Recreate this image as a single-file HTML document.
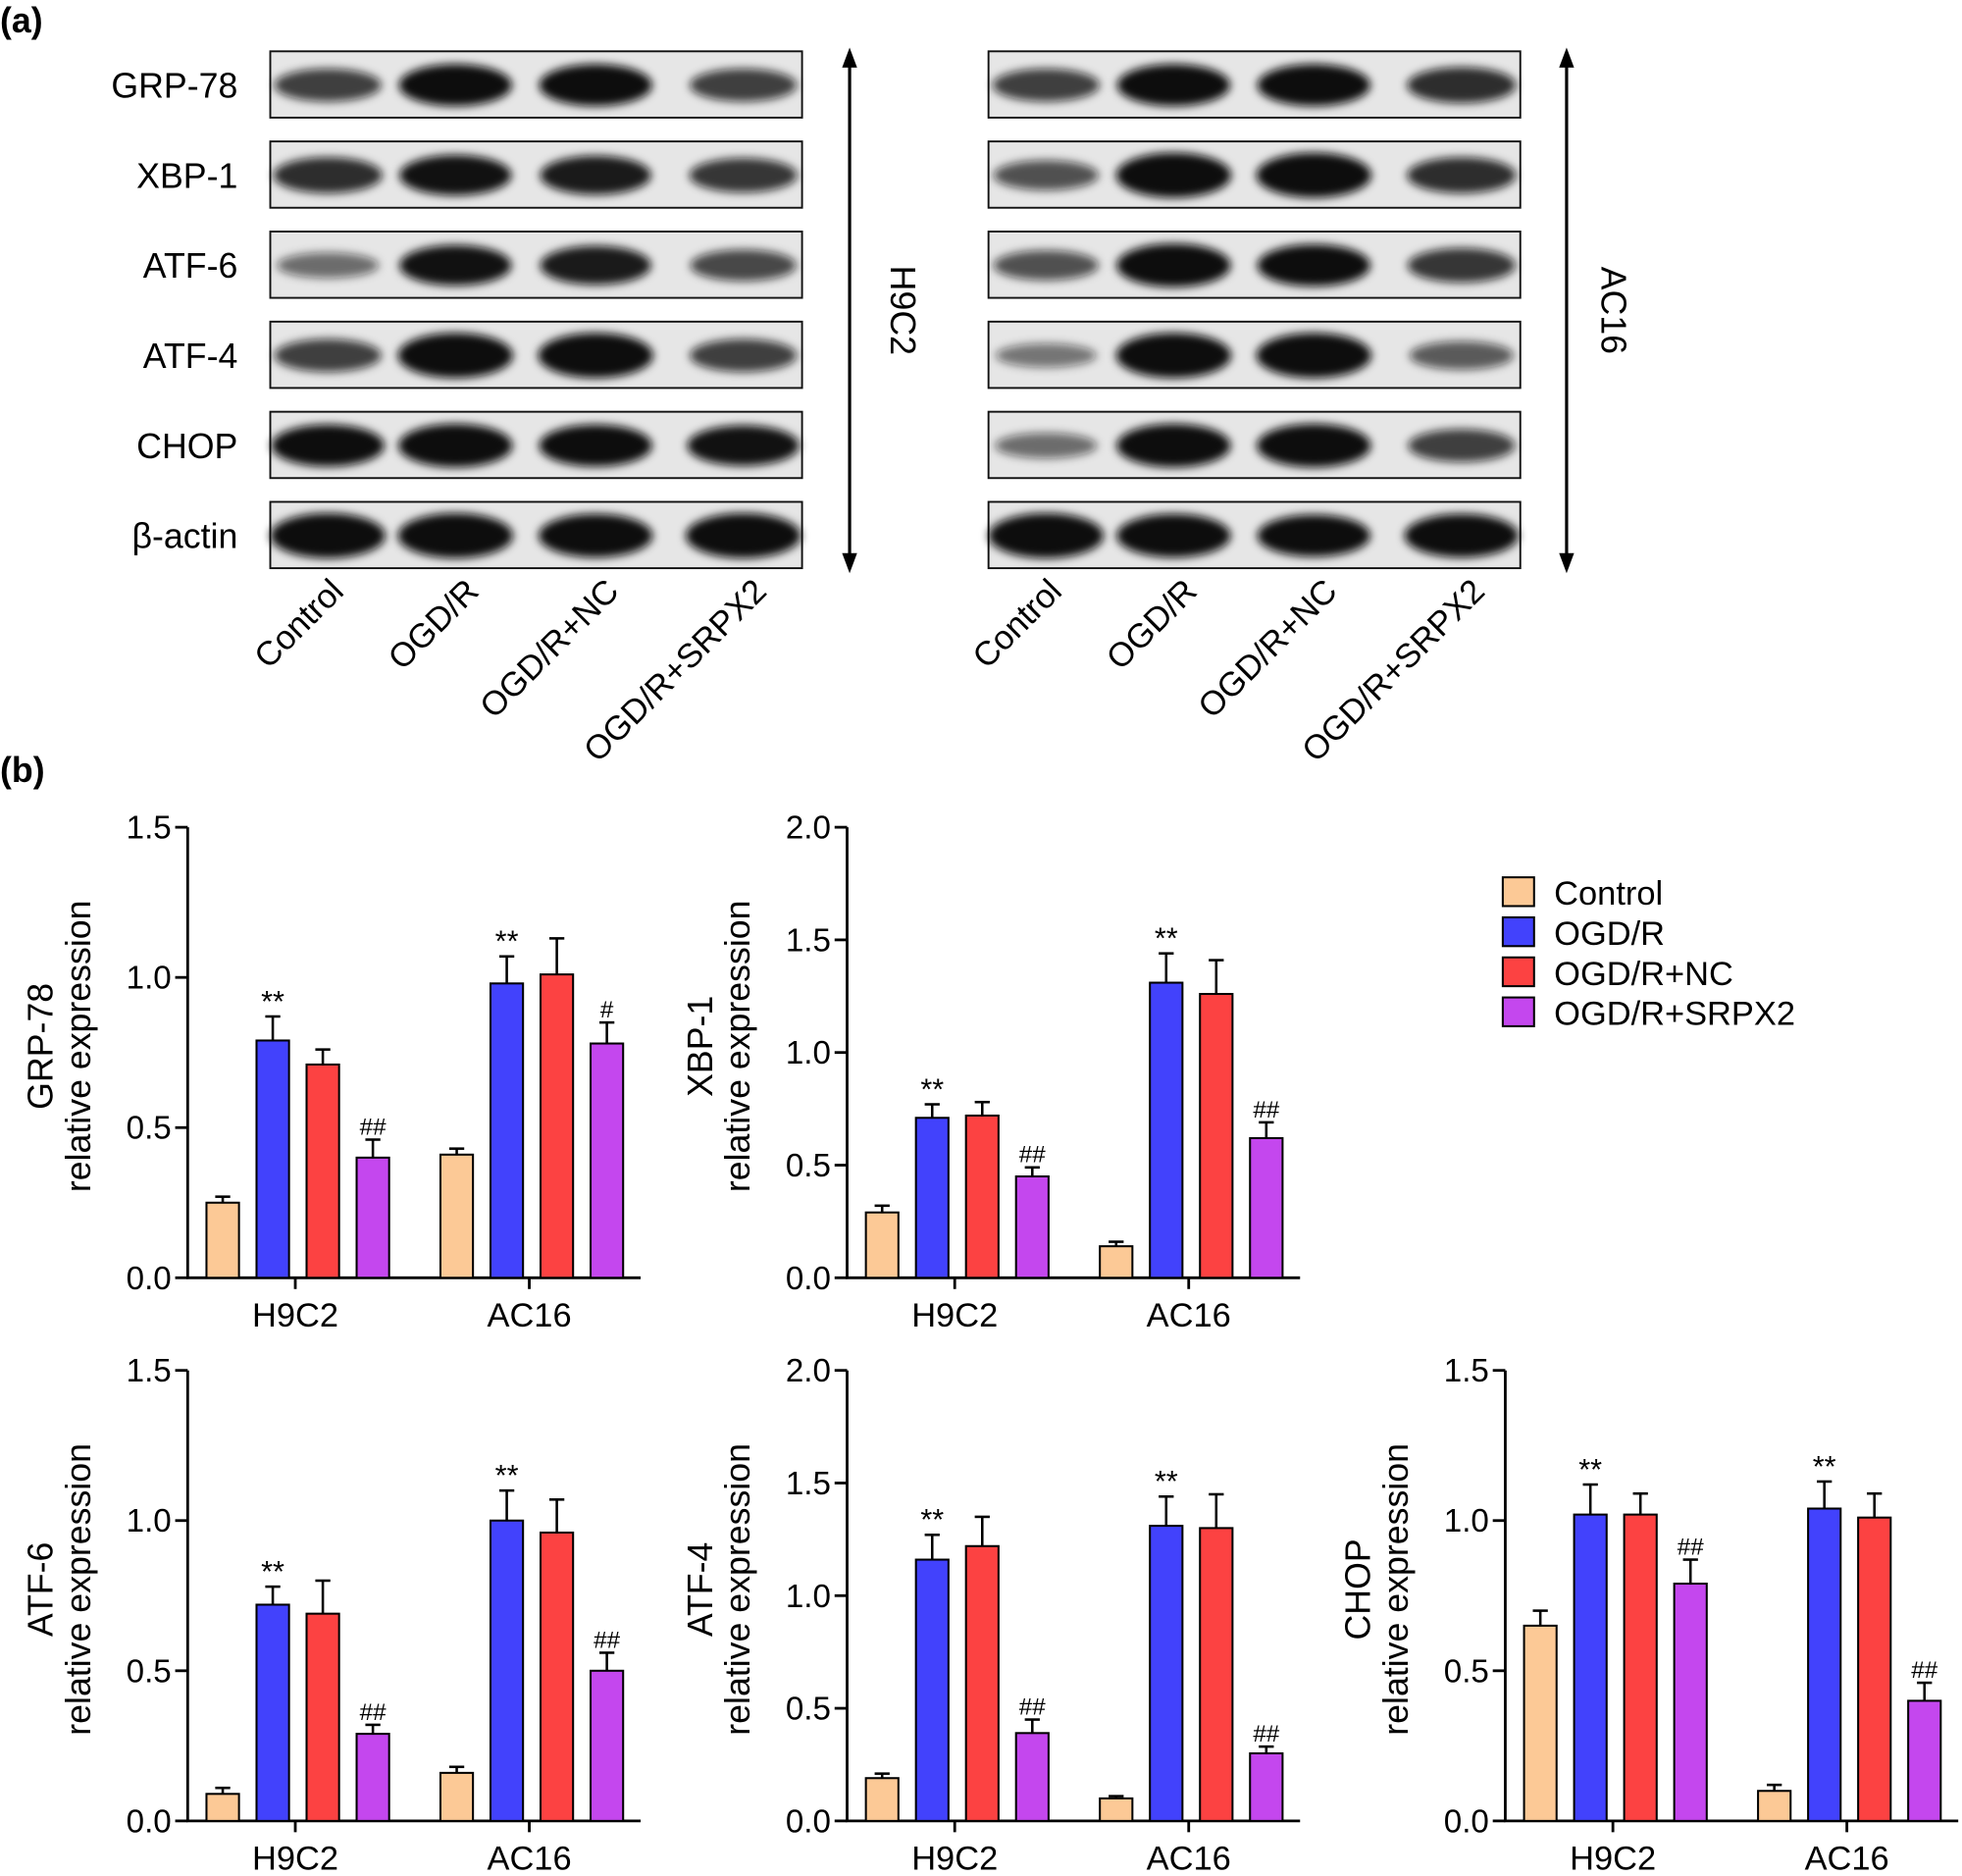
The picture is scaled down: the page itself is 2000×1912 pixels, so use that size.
<!DOCTYPE html>
<html><head><meta charset="utf-8"><style>
html,body{margin:0;padding:0;background:#fff;}
svg{display:block;font-family:"Liberation Sans",Arial,sans-serif;}
</style></head><body>
<svg id="fig" width="2000" height="1912" viewBox="0 0 1568 1499" xmlns="http://www.w3.org/2000/svg">
<defs><filter id="blur" x="-30%" y="-60%" width="160%" height="220%"><feGaussianBlur stdDeviation="3.5"/></filter></defs>
<text x="0" y="26" font-size="28" font-weight="bold">(a)</text>
<text x="0" y="625" font-size="28" font-weight="bold">(b)</text>
<g id="blots"></g>
<g id="charts"></g>
<g id="legend"></g>
</svg>
<script>
const NS="http://www.w3.org/2000/svg";
function mk(tag,attrs,parent){const e=document.createElementNS(NS,tag);for(const k in attrs)e.setAttribute(k,attrs[k]);parent.appendChild(e);return e;}
// ---------- Western blots ----------
const proteins=["GRP-78","XBP-1","ATF-6","ATF-4","CHOP","β-actin"];
const lanes=["Control","OGD/R","OGD/R+NC","OGD/R+SRPX2"];
const h9Int=[[0.6,0.9,0.9,0.6],[0.7,0.85,0.8,0.65],[0.35,0.85,0.8,0.55],[0.6,1,1,0.6],[0.9,0.95,0.9,0.85],[1,1,0.95,1]];
const acInt=[[0.6,0.9,0.9,0.7],[0.5,1,1,0.7],[0.5,0.95,0.9,0.65],[0.3,1,1,0.45],[0.35,0.95,0.95,0.6],[1,0.95,0.9,0.95]];
const rowY=[41,113,185,257,329,401];
const blots=document.getElementById('blots');
function drawBlot(x0,ints,cell,name){
  const g=mk('g',{},blots);
  
  
  rowY.forEach((y,ri)=>{
    const r=mk('rect',{x:x0,y:y,width:425,height:53,fill:'#e6e6e6',stroke:'#111','stroke-width':1.5},g);
    
    
    ints[ri].forEach((v,li)=>{
      const e=mk('ellipse',{cx:[x0+46,x0+148,x0+260,x0+378][li],cy:y+27,rx:38+8*v,ry:6+12*v,fill:'#111','fill-opacity':Math.min(1,0.3+0.8*v),filter:'url(#blur)'},g);
      
      
    });
  });
  lanes.forEach((l,li)=>{
    const cx=[x0+60,x0+168,x0+280,x0+398][li];
    const t=mk('text',{x:cx,y:474,'font-size':27,'text-anchor':'end',transform:`rotate(-45 ${cx} 474)`},g);
    t.textContent=l;
    
    
  });
}
drawBlot(216,h9Int,'h9c2','h9c2-blot');
drawBlot(790,acInt,'ac16','ac16-blot');
proteins.forEach((p,i)=>{
  const t=mk('text',{x:190,y:rowY[i]+37,'font-size':28,'text-anchor':'end'},blots);
  t.textContent=p;
  
  
});
[[679,'H9C2',712,90],[1252,'AC16',1280,90]].forEach(([x,lab,tx,rot])=>{
  const l=mk('line',{x1:x,y1:50,x2:x,y2:446,stroke:'#000','stroke-width':2.5},blots);
  
  
  mk('polygon',{points:`${x-6},54 ${x},38 ${x+6},54`,fill:'#000'},blots);
  mk('polygon',{points:`${x-6},442 ${x},458 ${x+6},442`,fill:'#000'},blots);
  const t=mk('text',{x:tx,y:248,'font-size':28,'text-anchor':'middle',transform:`rotate(${rot} ${tx} 248)`},blots);
  t.textContent=lab;
  
  
});
// ---------- Bar charts ----------
const groups=["H9C2","AC16"];
const series=["Control","OGD/R","OGD/R+NC","OGD/R+SRPX2"];
const colors=["#fcc996","#4242fc","#fc4242","#c447ee"];
const grpVals=[[0.25,0.79,0.71,0.40],[0.41,0.98,1.01,0.78]];
const grpErr=[[0.02,0.08,0.05,0.06],[0.02,0.09,0.12,0.07]];
const grpSig=[["","**","","##"],["","**","","#"]];
const xbpVals=[[0.29,0.71,0.72,0.45],[0.14,1.31,1.26,0.62]];
const xbpErr=[[0.03,0.06,0.06,0.04],[0.02,0.13,0.15,0.07]];
const xbpSig=[["","**","","##"],["","**","","##"]];
const atf6Vals=[[0.09,0.72,0.69,0.29],[0.16,1.00,0.96,0.50]];
const atf6Err=[[0.02,0.06,0.11,0.03],[0.02,0.10,0.11,0.06]];
const atf6Sig=[["","**","","##"],["","**","","##"]];
const atf4Vals=[[0.19,1.16,1.22,0.39],[0.10,1.31,1.30,0.30]];
const atf4Err=[[0.02,0.11,0.13,0.06],[0.01,0.13,0.15,0.03]];
const atf4Sig=[["","**","","##"],["","**","","##"]];
const chopVals=[[0.65,1.02,1.02,0.79],[0.10,1.04,1.01,0.40]];
const chopErr=[[0.05,0.10,0.07,0.08],[0.02,0.09,0.08,0.06]];
const chopSig=[["","**","","##"],["","**","","##"]];
const ticks15=["0.0","0.5","1.0","1.5"];
const ticks20=["0.0","0.5","1.0","1.5","2.0"];
const charts=document.getElementById('charts');
function chart(name,ax,y0,ymax,ticks,vals,errs,sigs,title){
  const g=mk('g',{},charts);
  
  
  const H=360;
  const ys=v=>y0-v/ymax*H;
  const xs=(gi,si)=>ax+15+gi*187+si*40;
  mk('line',{x1:ax,y1:y0,x2:ax,y2:y0-H,stroke:'#000','stroke-width':2.2},g);
  mk('line',{x1:ax-1,y1:y0,x2:ax+362,y2:y0,stroke:'#000','stroke-width':2.2},g);
  ticks.forEach(t=>{
    const v=parseFloat(t),y=ys(v);
    mk('line',{x1:ax-10,y1:y,x2:ax,y2:y,stroke:'#000','stroke-width':2.2},g);
    const tx=mk('text',{x:ax-13,y:y+9,'font-size':26,'text-anchor':'end'},g);
    tx.textContent=t;
    
    
  });
  groups.forEach((gn,gi)=>{
    const cx=ax+86+gi*187;
    mk('line',{x1:cx,y1:y0,x2:cx,y2:y0+9,stroke:'#000','stroke-width':2.2},g);
    const t=mk('text',{x:cx,y:y0+39,'font-size':27,'text-anchor':'middle'},g);
    t.textContent=gn;
    
    
    vals[gi].forEach((v,si)=>{
      const x=xs(gi,si),w=26,top=ys(v),et=ys(v+errs[gi][si]);
      mk('line',{x1:x+w/2,y1:top,x2:x+w/2,y2:et,stroke:'#000','stroke-width':2},g);
      mk('line',{x1:x+w/2-6,y1:et,x2:x+w/2+6,y2:et,stroke:'#000','stroke-width':2},g);
      const r=mk('rect',{x:x,y:top,width:w,height:y0-top,fill:colors[si],stroke:'#000','stroke-width':1.6},g);
      
      
      if(sigs[gi][si]){
        const s=mk('text',{x:x+w/2,y:et-4,'font-size':sigs[gi][si][0]=='*'?24:19,'text-anchor':'middle'},g);
        s.textContent=sigs[gi][si];
        
        
      }
    });
  });
  const cy=y0-H/2-5;
  const t1=mk('text',{x:0,y:0,'font-size':28,'text-anchor':'middle',transform:`translate(${ax-108} ${cy}) rotate(-90)`},g);
  t1.textContent=title;
  
  
  const t2=mk('text',{x:0,y:0,'font-size':28,'text-anchor':'middle',transform:`translate(${ax-78} ${cy}) rotate(-90)`},g);
  t2.textContent='relative expression';
  
  
}
chart('grp78-chart',150,1021,1.5,ticks15,grpVals,grpErr,grpSig,'GRP-78');
chart('xbp1-chart',677,1021,2.0,ticks20,xbpVals,xbpErr,xbpSig,'XBP-1');
chart('atf6-chart',150,1455,1.5,ticks15,atf6Vals,atf6Err,atf6Sig,'ATF-6');
chart('atf4-chart',677,1455,2.0,ticks20,atf4Vals,atf4Err,atf4Sig,'ATF-4');
chart('chop-chart',1203,1455,1.5,ticks15,chopVals,chopErr,chopSig,'CHOP');
const lg=document.getElementById('legend');
series.forEach((s,i)=>{
  const y=701+i*32;
  const r=mk('rect',{x:1201,y:y,width:25,height:23,fill:colors[i],stroke:'#000','stroke-width':1.6},lg);
  
  
  const t=mk('text',{x:1242,y:y+22,'font-size':27},lg);
  t.textContent=s;
  
  
});
</script>
</body></html>
